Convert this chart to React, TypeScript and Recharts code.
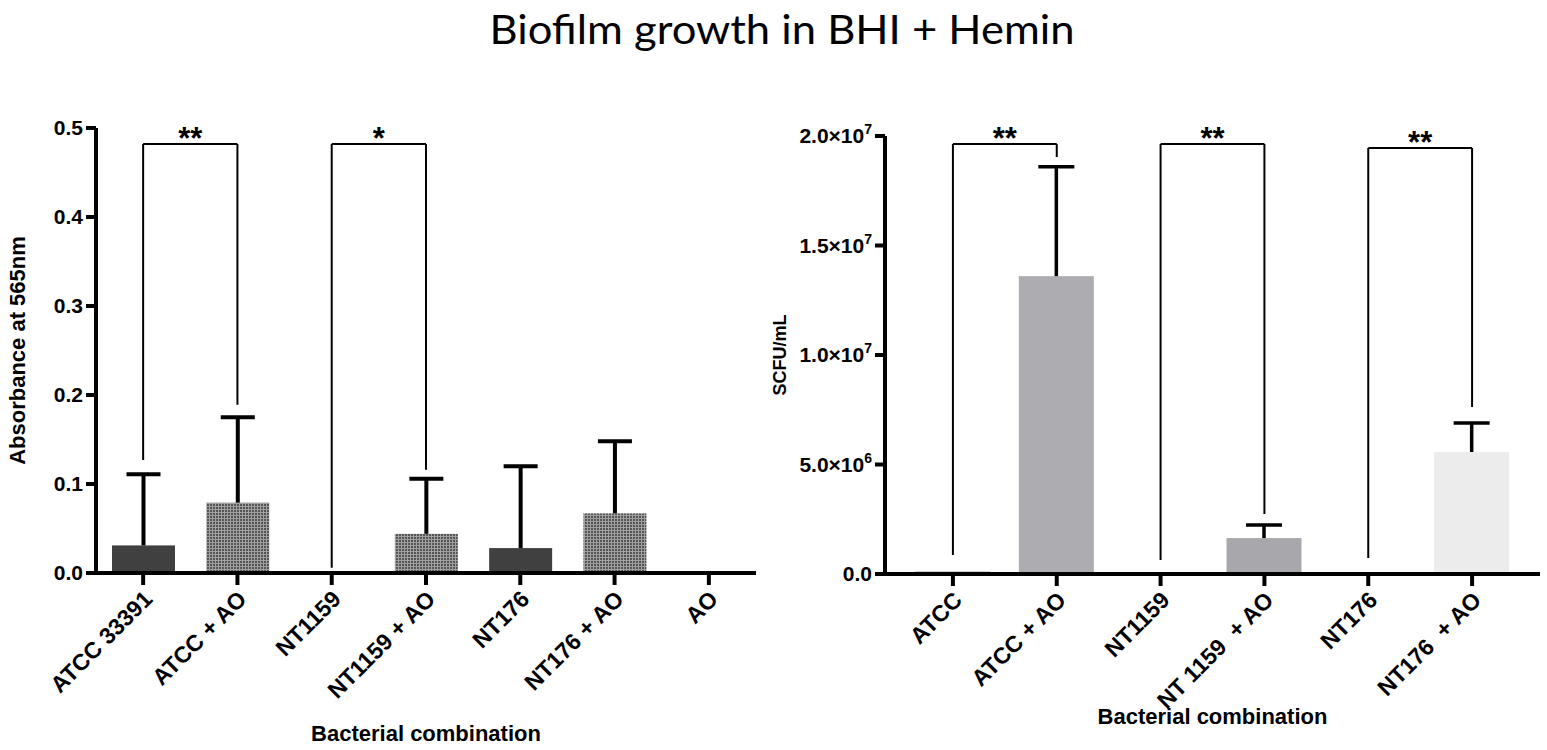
import React from "react";
import { BarChart, Bar, XAxis, YAxis, ReferenceLine, Cell, Label } from "recharts";

// left panel: absorbance
const absCategories = ["ATCC 33391", "ATCC + AO", "NT1159", "NT1159 + AO", "NT176", "NT176 + AO", "AO"];
const absMeans = [0.031, 0.079, 0.001, 0.044, 0.028, 0.067, 0.001];
const absSd = [0.08, 0.096, 0, 0.062, 0.092, 0.081, 0];
const absTicks = [0, 0.1, 0.2, 0.3, 0.4, 0.5];

// right panel: CFU counts
const cfuCategories = ["ATCC", "ATCC + AO", "NT1159", "NT 1159  + AO", "NT176", "NT176  + AO"];
const cfuMeans = [1.0e5, 1.36e7, 2.0e4, 1.64e6, 3.0e4, 5.57e6];
const cfuSd = [0, 5.0e6, 0, 6.0e5, 0, 1.33e6];
const cfuTicks = [0, 5e6, 1e7, 1.5e7, 2e7];

// significance brackets
const absSig = [
  { from: "ATCC 33391", to: "ATCC + AO", top: 0.482, fromEnd: 0.127, toEnd: 0.189, stars: "**" },
  { from: "NT1159", to: "NT1159 + AO", top: 0.482, fromEnd: 0.006, toEnd: 0.116, stars: "*" },
];
const cfuSig = [
  { from: "ATCC", to: "ATCC + AO", top: 1.963e7, fromEnd: 8.7e5, toEnd: 1.904e7, stars: "**" },
  { from: "NT1159", to: "NT 1159  + AO", top: 1.963e7, fromEnd: 6.4e5, toEnd: 2.74e6, stars: "**" },
  { from: "NT176", to: "NT176  + AO", top: 1.945e7, fromEnd: 7.3e5, toEnd: 7.63e6, stars: "**" },
];

const absFills = ["#404040", "url(#dots)", "#404040", "url(#dots)", "#404040", "url(#dots)", "#404040"];
const cfuFills = ["#111111", "#adadb1", "#999999", "#a8a8ac", "#bbbbbb", "#ececec"];

const absData = absCategories.map((name, i) => ({ name, mean: absMeans[i], sd: absSd[i] }));
const cfuData = cfuCategories.map((name, i) => ({ name, mean: cfuMeans[i], sd: cfuSd[i] }));

const FONT = "'Liberation Sans', Arial, sans-serif";

// bar + upper-only SD whisker, GraphPad style
const WhiskerBar = (props: any) => {
  const { x, y, width, height, value, payload, fill, capWidth, lineWidth } = props;
  const v = Array.isArray(value) ? value[1] - value[0] : value;
  const k = v > 0 ? height / v : 0;
  const top = y - payload.sd * k;
  const cx = x + width / 2;
  return (
    <g>
      <rect x={x} y={y} width={width} height={Math.max(height, 0)} fill={fill} />
      {payload.sd > 0 && (
        <g stroke="#000" strokeWidth={lineWidth}>
          <line x1={cx} x2={cx} y1={y} y2={top} />
          <line x1={cx - capWidth / 2} x2={cx + capWidth / 2} y1={top} y2={top} />
        </g>
      )}
    </g>
  );
};

const AngledTick = ({ x, y, payload }: any) => (
  <g transform={`translate(${x - 1},${y + 2})`}>
    <text
      x={0}
      y={0}
      dy="0.71em"
      textAnchor="end"
      transform="rotate(-45)"
      fontFamily={FONT}
      fontWeight="bold"
      fontSize={23}
      fill="#000"
      style={{ whiteSpace: "pre" }}
    >
      {payload.value}
    </text>
  </g>
);

const SciTick = ({ x, y, payload }: any) => {
  const v = payload.value;
  const common = { x, y, dy: 7, textAnchor: "end" as const, fontFamily: FONT, fontWeight: "bold", fontSize: 21, fill: "#000" };
  if (v === 0) return <text {...common}>0.0</text>;
  const exp = Math.floor(Math.log10(v) + 1e-9);
  const mant = (v / Math.pow(10, exp)).toFixed(1);
  return (
    <text {...common}>
      {mant}×10
      <tspan dy={-9} fontSize={14}>{exp}</tspan>
    </text>
  );
};

const YTitle = ({ viewBox, value, dx, size }: any) => {
  const cx = viewBox.x + dx;
  const cy = viewBox.y + viewBox.height / 2;
  return (
    <text
      x={cx}
      y={cy}
      transform={`rotate(-90, ${cx}, ${cy})`}
      textAnchor="middle"
      fontFamily={FONT}
      fontWeight="bold"
      fontSize={size}
      fill="#000"
    >
      {value}
    </text>
  );
};

const brackets = (sig: any[], prefix: string) =>
  sig.flatMap((s, i) => [
    <ReferenceLine
      key={`${prefix}h${i}`}
      segment={[{ x: s.from, y: s.top }, { x: s.to, y: s.top }]}
      stroke="#000"
      strokeWidth={2}
      label={{ value: s.stars, position: "top", offset: -5, fontSize: 31, fontWeight: "bold", fill: "#000", fontFamily: FONT }}
    />,
    <ReferenceLine
      key={`${prefix}l${i}`}
      segment={[{ x: s.from, y: s.top }, { x: s.from, y: s.fromEnd }]}
      stroke="#000"
      strokeWidth={2}
    />,
    <ReferenceLine
      key={`${prefix}r${i}`}
      segment={[{ x: s.to, y: s.top }, { x: s.to, y: s.toEnd }]}
      stroke="#000"
      strokeWidth={2}
    />,
  ]);

const axisStyle = { stroke: "#000", strokeWidth: 4 };
const tickStyle = { fontFamily: FONT, fontWeight: "bold", fontSize: 21, fill: "#000" };
const xLabelStyle = { fontFamily: FONT, fontWeight: "bold", fontSize: 22, fill: "#000" };

export default function App() {
  return (
    <div style={{ position: "absolute", left: 0, top: 0, width: 1547, height: 750, background: "#fff" }}>
      <svg width={1547} height={60} style={{ position: "absolute", left: 0, top: 0 }}>
        <defs>
          <pattern id="dots" width={3} height={3} patternUnits="userSpaceOnUse">
            <rect width={3} height={3} fill="#a0a0a0" />
            <rect width={2} height={2} fill="#555555" />
          </pattern>
        </defs>
        <text
          x={782}
          y={44}
          textAnchor="middle"
          fontFamily="Lato, 'Open Sans', sans-serif"
          fontSize={40}
          fill="#000"
          textLength={585}
          lengthAdjust="spacingAndGlyphs"
        >
          Biofilm growth in BHI + Hemin
        </text>
      </svg>

      <div style={{ position: "absolute", left: 0, top: 0 }}>
        <BarChart width={780} height={750} data={absData} margin={{ top: 128, right: 24, bottom: 0, left: 0 }}>
          <XAxis
            dataKey="name"
            interval={0}
            height={177}
            axisLine={axisStyle}
            tickLine={axisStyle}
            tickSize={12}
            tick={<AngledTick />}
          >
            <Label value="Bacterial combination" position="insideBottom" offset={9} style={xLabelStyle} />
          </XAxis>
          <YAxis
            width={96}
            domain={[0, 0.5]}
            ticks={absTicks}
            interval={0}
            axisLine={axisStyle}
            tickLine={axisStyle}
            tickSize={10}
            tickMargin={3}
            tick={tickStyle}
            tickFormatter={(v: number) => v.toFixed(1)}
          >
            <Label content={<YTitle value="Absorbance at 565nm" dx={25} size={22} />} />
          </YAxis>
          <Bar
            dataKey="mean"
            barSize={63}
            isAnimationActive={false}
            shape={(p: any) => <WhiskerBar {...p} capWidth={34} lineWidth={4} />}
          >
            {absData.map((d, i) => (
              <Cell key={d.name} fill={absFills[i]} />
            ))}
          </Bar>
          {brackets(absSig, "a")}
        </BarChart>
      </div>

      <div style={{ position: "absolute", left: 770, top: 0 }}>
        <BarChart width={777} height={750} data={cfuData} margin={{ top: 136, right: 7, bottom: 0, left: 0 }}>
          <XAxis
            dataKey="name"
            interval={0}
            height={176}
            padding={{ left: 16, right: 16 }}
            axisLine={axisStyle}
            tickLine={axisStyle}
            tickSize={12}
            tick={<AngledTick />}
          >
            <Label value="Bacterial combination" position="insideBottom" offset={26} style={xLabelStyle} />
          </XAxis>
          <YAxis
            width={115}
            domain={[0, 2e7]}
            ticks={cfuTicks}
            interval={0}
            axisLine={axisStyle}
            tickLine={axisStyle}
            tickSize={10}
            tickMargin={3}
            tick={<SciTick />}
          >
            <Label content={<YTitle value="SCFU/mL" dx={16} size={18} />} />
          </YAxis>
          <Bar
            dataKey="mean"
            barSize={75}
            isAnimationActive={false}
            shape={(p: any) => <WhiskerBar {...p} capWidth={36} lineWidth={3.5} />}
          >
            {cfuData.map((d, i) => (
              <Cell key={d.name} fill={cfuFills[i]} />
            ))}
          </Bar>
          {brackets(cfuSig, "c")}
        </BarChart>
      </div>
    </div>
  );
}
